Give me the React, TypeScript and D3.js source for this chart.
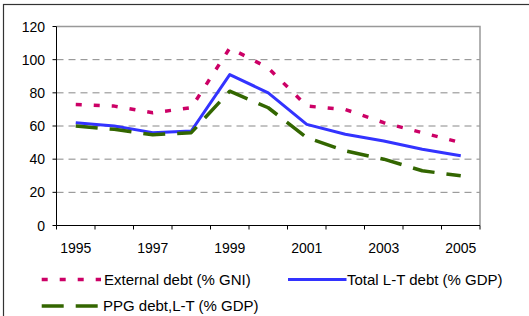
import React from "react";
import * as d3 from "d3";

const years = ["1995", "1996", "1997", "1998", "1999", "2000", "2001", "2002", "2003", "2004", "2005"];
const externalDebt = [73, 72, 68, 71, 107, 95, 72, 70, 62, 56, 50];
const totalLT = [62, 60, 56, 57, 91, 80, 61, 55, 51, 46, 42];
const ppgLT = [60, 58, 54.7, 56, 81, 71, 53, 45, 40, 33, 30];
const yTicks = [0, 20, 40, 60, 80, 100, 120];

const series = [
  { name: "External debt (% GNI)", values: externalDebt, color: "#cc0066", width: 3.5, dash: "6,12" },
  { name: "Total L-T debt (% GDP)", values: totalLT, color: "#3333ff", width: 3, dash: null },
  { name: "PPG debt,L-T (% GDP)", values: ppgLT, color: "#336600", width: 3.5, dash: "22,12" },
];

const W = 529;
const H = 316;
const margin = { left: 56.5, top: 26.5, right: 480, bottom: 225.5 };
const font = "'Liberation Sans', Arial, sans-serif";

export default function App() {
  const x = d3.scaleBand<string>()
    .domain(years)
    .range([margin.left, margin.right])
    .padding(0);
  const y = d3.scaleLinear()
    .domain([0, 120])
    .range([margin.bottom, margin.top]);

  const line = d3.line<number>()
    .x((d, i) => x(years[i])! + x.bandwidth() / 2)
    .y(d => y(d));

  const bounds = years.map(d => x(d)!).concat([margin.right]);

  // legend layout
  const legend = [
    { s: series[0], x0: 41.7, x1: 101, tx: 104, ty: 279.5 },
    { s: series[1], x0: 288, x1: 346.5, tx: 347, ty: 279.5 },
    { s: series[2], x0: 41.7, x1: 98, tx: 103, ty: 306 },
  ];

  return (
    <svg width={W} height={H} style={{ position: "absolute", left: 0, top: 0, background: "#fff" }}
      fontFamily={font}>
      <rect x={3.5} y={4.5} width={600} height={400} fill="#fff" stroke="#333" strokeWidth={1.2} />

      {/* grid */}
      {yTicks.filter(t => t > 0 && t < 120).map(t => (
        <line key={t} x1={margin.left} x2={margin.right} y1={y(t)} y2={y(t)}
          stroke="#888" strokeWidth={1} strokeDasharray="7,5" />
      ))}
      {/* plot border top/right */}
      <path d={`M${margin.left},${y(120)}H${margin.right}V${y(0)}`} fill="none" stroke="#999" strokeWidth={1.5} />

      {/* y axis */}
      <line x1={margin.left} x2={margin.left} y1={y(120)} y2={y(0)} stroke="#000" strokeWidth={1} />
      {yTicks.map(t => (
        <g key={t}>
          <line x1={margin.left - 4} x2={margin.left} y1={y(t)} y2={y(t)} stroke="#000" />
          <text x={45} y={y(t)} dy="0.36em" textAnchor="end" fontSize={14}>{t}</text>
        </g>
      ))}

      {/* x axis */}
      <line x1={margin.left} x2={margin.right} y1={y(0)} y2={y(0)} stroke="#000" strokeWidth={1} />
      {bounds.map((b, i) => (
        <line key={i} x1={b} x2={b} y1={y(0)} y2={y(0) + 4} stroke="#000" />
      ))}
      {years.map((yr, i) => i % 2 === 0 ? (
        <text key={yr} x={x(yr)! + x.bandwidth() / 2} y={253} textAnchor="middle" fontSize={14}>{yr}</text>
      ) : null)}

      {/* series */}
      {series.map(s => (
        <path key={s.name} d={line(s.values)!} fill="none" stroke={s.color} strokeWidth={s.width}
          strokeDasharray={s.dash ?? undefined} strokeLinejoin="round" />
      ))}

      {/* legend */}
      {legend.map(l => (
        <g key={l.s.name}>
          <line x1={l.x0} x2={l.x1} y1={l.ty} y2={l.ty} stroke={l.s.color} strokeWidth={l.s.width}
            strokeDasharray={l.s.dash ?? undefined} />
          <text x={l.tx} y={l.ty} dy="0.36em" fontSize={15}>{l.s.name}</text>
        </g>
      ))}
    </svg>
  );
}
